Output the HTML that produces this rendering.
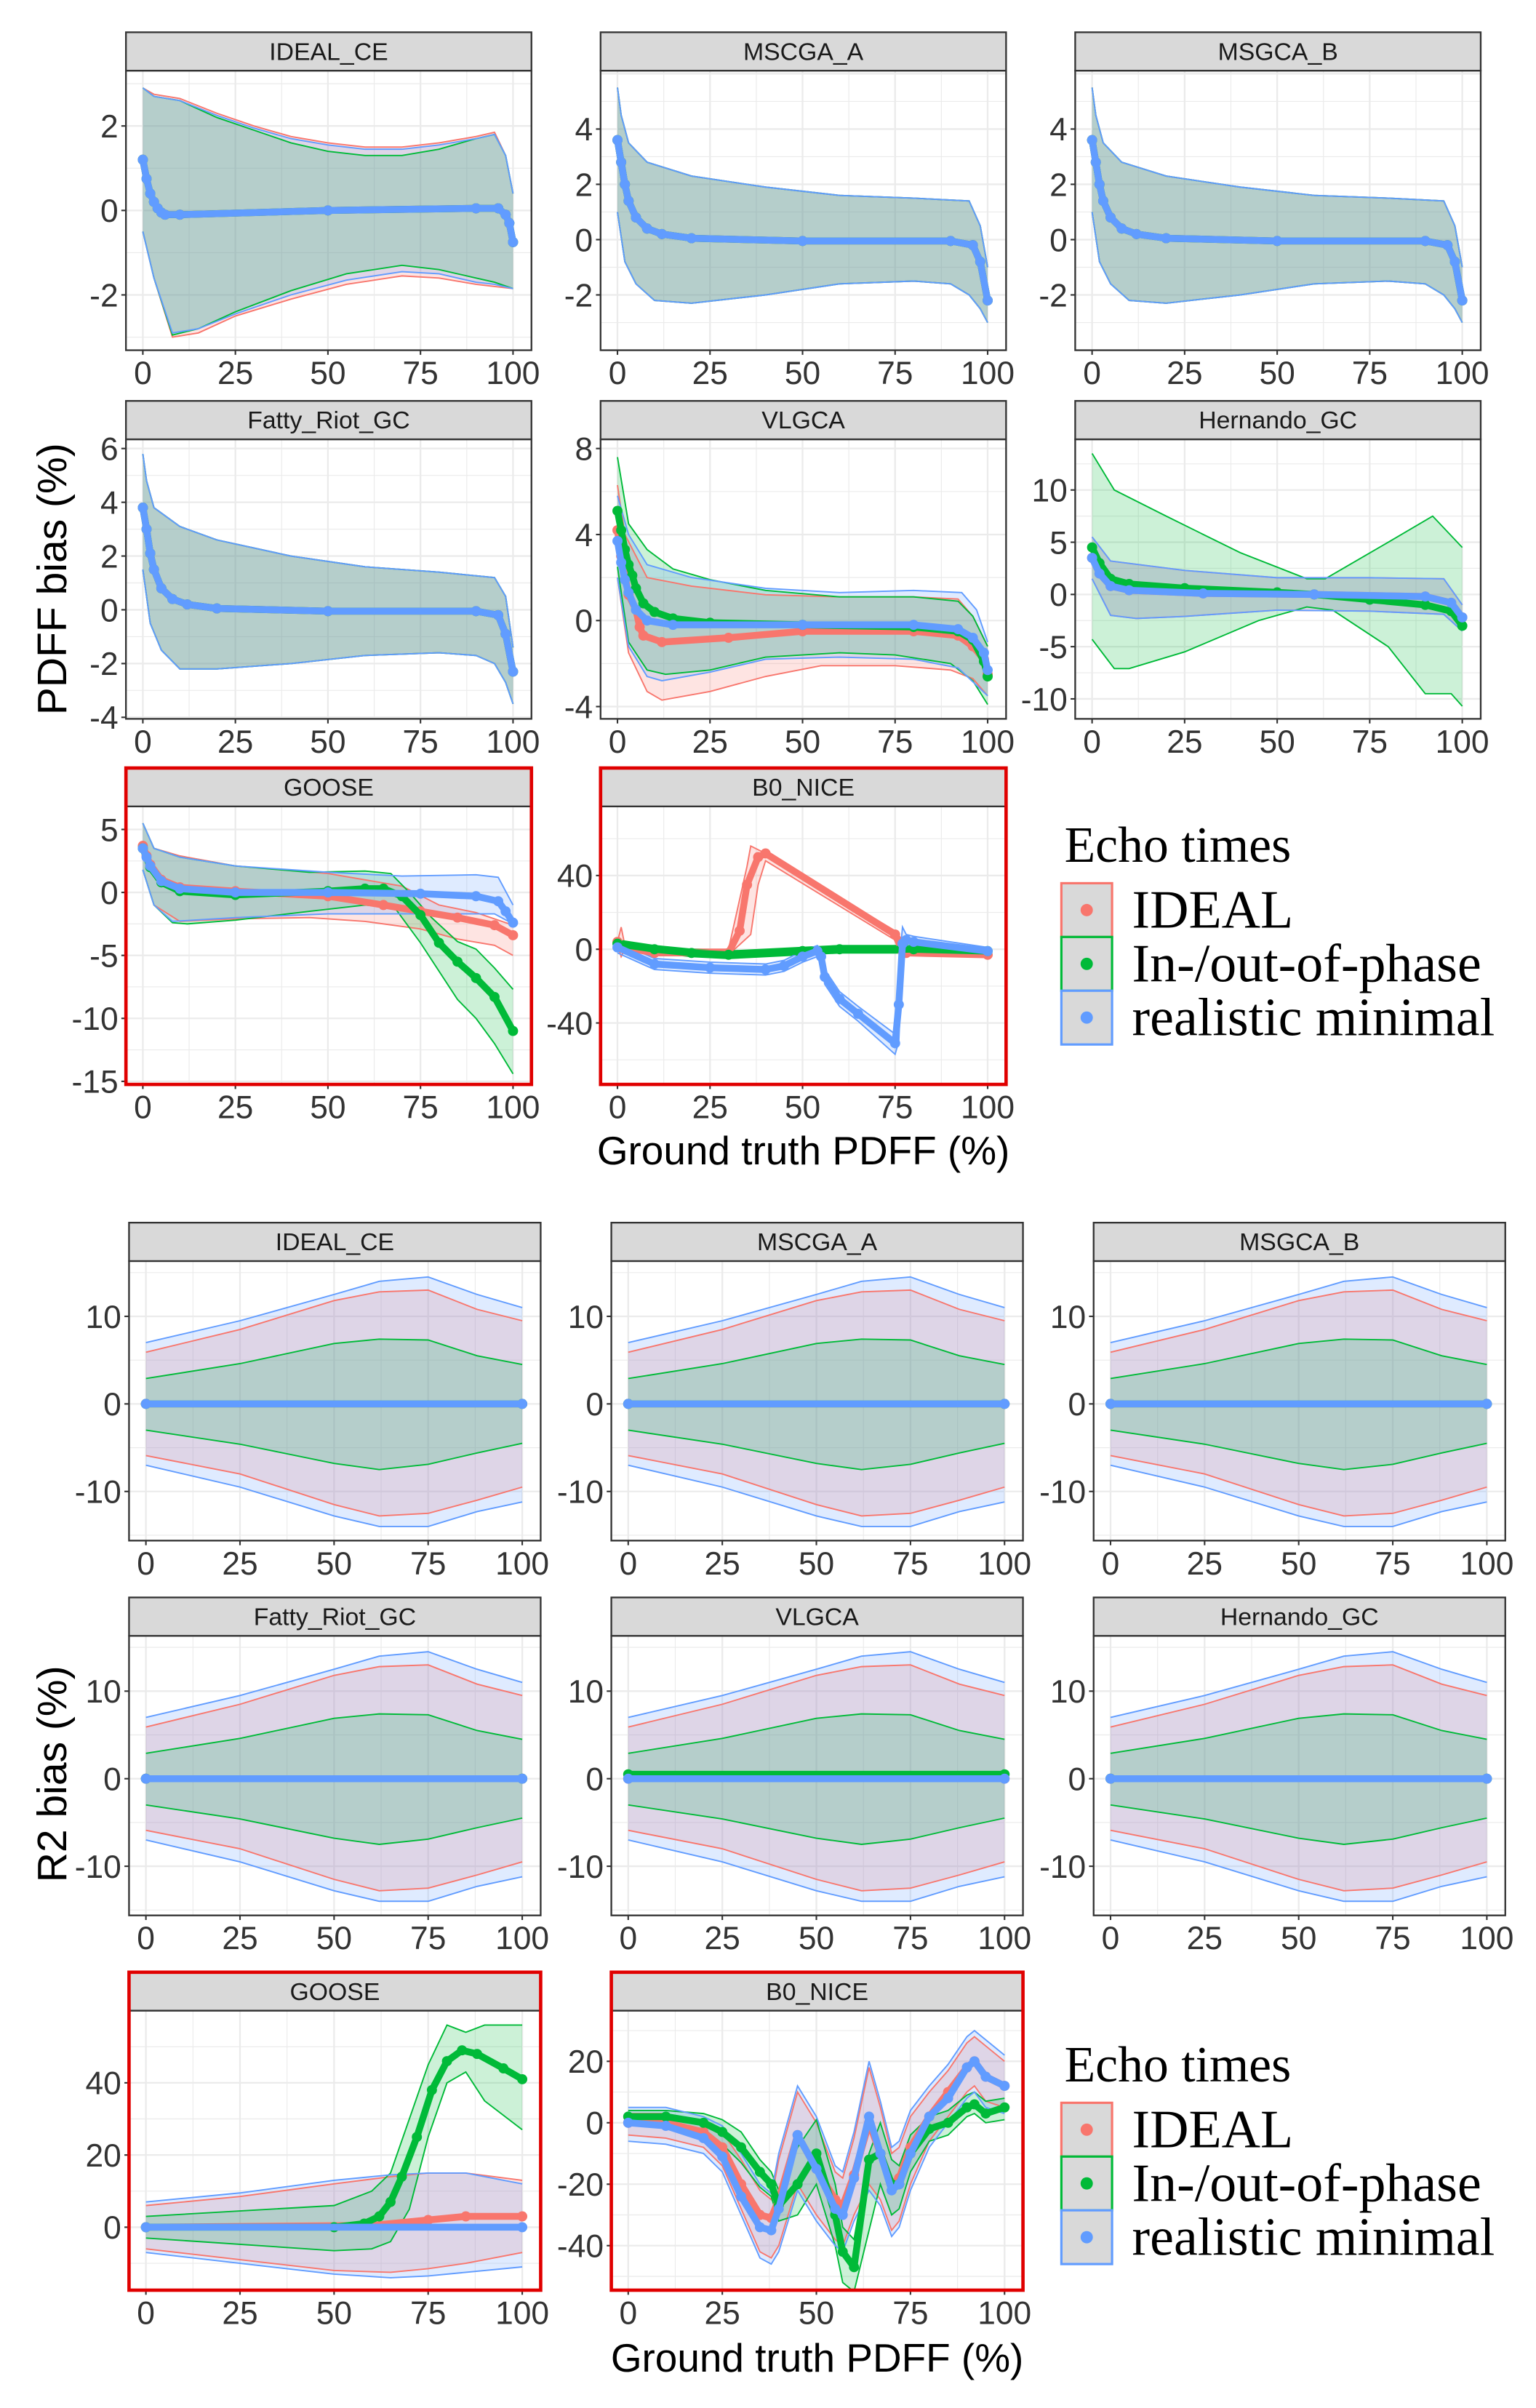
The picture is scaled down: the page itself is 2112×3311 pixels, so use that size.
<!DOCTYPE html>
<html><head><meta charset="utf-8"><style>
html,body{margin:0;padding:0;background:#fff;}
svg{display:block;}
text{font-family:"Liberation Sans",sans-serif;}
</style></head><body>
<svg id="fig" xmlns="http://www.w3.org/2000/svg" width="2112" height="3311" viewBox="0 0 1000 1567.7">
<rect x="0" y="0" width="1000" height="1568" fill="#fff"/>
<g id="root"></g>
<text x="36" y="377" transform="rotate(-90 36 377)" text-anchor="middle" font-size="27" fill="#000" dominant-baseline="middle">PDFF bias (%)</text>
<text x="523" y="758" text-anchor="middle" font-size="26" fill="#000">Ground truth PDFF (%)</text>
<text x="36" y="1155" transform="rotate(-90 36 1155)" text-anchor="middle" font-size="27" fill="#000" dominant-baseline="middle">R2 bias (%)</text>
<text x="532" y="1544" text-anchor="middle" font-size="26" fill="#000">Ground truth PDFF (%)</text>
</svg>
<script>
// ---------- DATA ----------
const colRed = "#F8766D", colGreen = "#00BA38", colBlue = "#619CFF";
const xTickValues = [0, 25, 50, 75, 100];
const legendLabels = ["IDEAL", "In-/out-of-phase", "realistic minimal"];

// IDEAL_CE PDFF
const iceUpX = [0,3,10,20,30,40,50,60,70,80,90,95,98,100];
const iceUpRed = [2.9,2.75,2.65,2.3,2.0,1.75,1.6,1.5,1.5,1.6,1.75,1.85,1.3,0.4];
const iceUpGreen = [2.9,2.7,2.6,2.2,1.9,1.6,1.4,1.3,1.3,1.45,1.7,1.8,1.3,0.4];
const iceUpBlue = [2.9,2.7,2.6,2.25,1.95,1.7,1.55,1.45,1.45,1.55,1.7,1.8,1.3,0.4];
const iceLoX = [0,3,8,15,25,40,55,70,80,90,95,100];
const iceLoRed = [-0.5,-1.6,-3.0,-2.9,-2.5,-2.1,-1.75,-1.55,-1.6,-1.75,-1.8,-1.85];
const iceLoGreen = [-0.5,-1.6,-2.95,-2.8,-2.4,-1.9,-1.5,-1.3,-1.4,-1.6,-1.7,-1.85];
const iceLoBlue = [-0.5,-1.6,-2.9,-2.8,-2.45,-2.0,-1.65,-1.45,-1.5,-1.7,-1.75,-1.85];
const iceMeanX = [0,1,2,3,4,5,6,10,50,90,96,98,99,100];
const iceMean = [1.2,0.75,0.4,0.2,0.05,-0.05,-0.1,-0.1,0,0.05,0.05,-0.1,-0.3,-0.75];
const iceTicks = [-2,0,2];

// MSCGA_A / MSGCA_B PDFF
const msUpX = [0,1,3,8,20,40,60,80,95,98,100];
const msUp = [5.5,4.5,3.5,2.8,2.3,1.9,1.6,1.5,1.4,0.5,-1.0];
const msLoX = [0,2,5,10,20,40,60,80,90,95,98,100];
const msLo = [1,-0.8,-1.6,-2.2,-2.3,-2.0,-1.6,-1.5,-1.6,-2.0,-2.5,-3.0];
const msMeanX = [0,1,2,3,5,8,12,20,50,90,96,98,100];
const msMean = [3.6,2.8,2.0,1.4,0.8,0.4,0.2,0.05,-0.05,-0.05,-0.2,-0.8,-2.2];
const msTicks = [-2,0,2,4];

// Fatty_Riot_GC PDFF
const frUpX = [0,1,3,10,20,40,60,80,95,98,100];
const frUp = [5.8,4.8,3.8,3.1,2.6,2.0,1.6,1.4,1.2,0.5,-1.4];
const frLoX = [0,2,5,10,20,40,60,80,90,95,98,100];
const frLo = [1.5,-0.5,-1.5,-2.2,-2.2,-2.0,-1.7,-1.6,-1.7,-2.0,-2.7,-3.5];
const frMeanX = [0,1,2,3,5,8,12,20,50,90,96,98,100];
const frMean = [3.8,3.0,2.1,1.5,0.8,0.4,0.2,0.05,-0.05,-0.05,-0.2,-0.9,-2.3];
const frTicks = [-4,-2,0,2,4,6];

// VLGCA PDFF
const vlGUpX = [0,3,8,15,25,40,60,80,92,96,100];
const vlGUp = [7.6,4.5,3.3,2.4,1.9,1.4,1.1,1.1,0.9,0.2,-1.2];
const vlGLoX = [0,3,8,13,25,40,60,75,90,96,100];
const vlGLo = [2.5,-1,-2.3,-2.5,-2.3,-1.7,-1.5,-1.6,-2,-2.8,-3.9];
const vlRUpX = [0,2,8,20,40,60,80,92,96,100];
const vlRUp = [6.3,4,2,1.6,1.2,1.1,1.1,1,0.2,-1.2];
const vlRLoX = [0,3,8,12,25,40,55,75,90,96,100];
const vlRLo = [2,-1.5,-3.3,-3.7,-3.3,-2.6,-2.1,-2.1,-2.3,-2.7,-3.5];
const vlBUpX = [0,3,8,20,40,60,80,93,97,100];
const vlBUp = [5.8,4,2.6,2.0,1.5,1.3,1.4,1.3,0.5,-1.0];
const vlBLoX = [0,3,8,12,25,40,60,80,92,100];
const vlBLo = [2,-1.2,-2.6,-2.8,-2.4,-1.8,-1.7,-1.8,-2.2,-3.5];
const vlRMeanX = [0,1,3,5,6,7,12,30,50,80,92,96,99,100];
const vlRMean = [4.2,3,1.2,0.5,-0.3,-0.7,-1.0,-0.8,-0.5,-0.5,-0.7,-1.2,-1.8,-2.5];
const vlGMeanX = [0,1,2,3,4,5,7,10,15,25,50,80,92,96,99,100];
const vlGMean = [5.1,4.2,3.3,2.6,2.1,1.5,0.8,0.4,0.1,-0.1,-0.2,-0.3,-0.5,-0.9,-1.9,-2.6];
const vlBMeanX = [0,1,2,3,5,8,15,50,80,92,96,99,100];
const vlBMean = [3.7,2.7,1.9,1.3,0.5,0.0,-0.2,-0.2,-0.2,-0.4,-0.8,-1.5,-2.3];
const vlTicks = [-4,0,4,8];

// Hernando_GC PDFF
const heGUpX = [0,6,20,40,58,63,80,92,100];
const heGUp = [13.5,10,7.5,4,1.5,1.5,5,7.5,4.5];
const heGLoX = [0,6,10,25,45,58,65,80,90,97,100];
const heGLo = [-4.3,-7.1,-7.1,-5.5,-2.5,-1.2,-1.5,-5,-9.5,-9.5,-10.7];
const heUpX = [0,5,25,50,75,95,100];
const heUp = [5.5,3.2,2.3,1.6,1.6,1.5,-1];
const heLoX = [0,5,12,25,50,75,95,100];
const heLo = [1.5,-2,-2.3,-2.1,-1.5,-1.6,-1.9,-3.5];
const heGMeanX = [0,2,5,10,25,50,60,75,90,97,100];
const heGMean = [4.5,3,1.5,1,0.6,0.2,0,-0.5,-1,-1.6,-3];
const heBMeanX = [0,2,5,10,30,60,90,97,100];
const heBMean = [3.5,2,0.8,0.4,0.1,0,-0.2,-0.8,-2.2];
const heTicks = [-10,-5,0,5,10];

// GOOSE PDFF
const goGUpX = [0,3,10,25,45,60,67,72,78,85,90,95,100];
const goGUp = [5.5,3.5,2.8,2.1,1.6,1.7,1.5,0,-2,-3.9,-4.5,-6,-7.7];
const goGLoX = [0,3,8,12,25,45,60,68,75,85,90,95,100];
const goGLo = [1.8,-1,-2.4,-2.5,-2.2,-1.5,-1,-1.2,-4,-8.5,-10,-12,-14.4];
const goRUpX = [0,3,10,25,50,70,80,90,100];
const goRUp = [5.5,3.5,2.9,2.1,1.5,0.5,-1,-1.6,-2.6];
const goRLoX = [0,3,10,25,45,60,75,85,95,100];
const goRLo = [1.8,-1,-2.3,-2.1,-2,-2.3,-2.9,-3.7,-4.2,-5];
const goBUpX = [0,3,10,25,50,70,90,96,100];
const goBUp = [5.5,3.5,2.8,2.1,1.6,1.3,1.4,1.2,-1];
const goBLoX = [0,3,8,25,50,70,95,100];
const goBLo = [1.8,-1,-2.3,-2,-1.7,-1.7,-1.7,-2.5];
const goRMeanX = [0,1,2,5,10,25,50,65,75,85,95,100];
const goRMean = [3.7,2.9,2.2,1.0,0.4,0.1,-0.3,-1.0,-1.5,-2.0,-2.6,-3.4];
const goGMeanX = [0,2,5,10,25,50,60,65,70,75,80,85,90,95,100];
const goGMean = [3.5,2,0.8,0.1,-0.2,0.1,0.3,0.3,-0.3,-1.8,-4,-5.5,-6.8,-8.3,-11];
const goBMeanX = [0,1,2,5,10,25,50,75,90,96,98,100];
const goBMean = [3.5,2.8,2.1,0.9,0.3,0,0,-0.1,-0.3,-0.7,-1.5,-2.4];
const goTicks = [-15,-10,-5,0,5];

// B0_NICE PDFF
const b0RMeanX = [0,2,10,30,33,35,38,40,75,77,78,100];
const b0RMean = [4,1,-2,-2,10,35,50,52,8,-1,-2,-3];
const b0RUpX = [0,1,2,10,30,35,36,40,75,77,80,100];
const b0RUp = [4,12,2,0,0,45,56,52,10,5,-2,-2];
const b0RLoX = [0,1,2,10,30,36,38,40,75,77,80,100];
const b0RLo = [2,-4,0,-3,-3,8,35,48,5,-2,-3,-4];
const b0GMeanX = [0,10,20,30,50,60,80,100];
const b0GMean = [3,0,-2,-3,-1,0,0,-1];
const b0GUp = [5,2,0,-1,1,2,2,1];
const b0GLo = [1,-2,-4,-5,-3,-2,-2,-3];
const b0BMeanX = [0,10,25,40,45,50,54,55,56,60,65,75,76,77,78,80,100];
const b0BMean = [1,-8,-10,-11,-9,-4,-1,-4,-15,-27,-35,-51,-30,3,5,4,-1];
const b0BUp = [4,-5,-7,-8,-6,-1,2,0,-11,-23,-31,-46,-10,12,8,7,1];
const b0BLo = [-2,-11,-13,-14,-12,-7,-4,-8,-19,-31,-39,-57,-50,-5,2,1,-3];
const b0Ticks = [-40,0,40];

// R2 standard panels
const r2X = [0,25,50,62,75,88,100];
const r2BUp = [7,9.5,12.5,14,14.5,12.5,11];
const r2RUp = [5.9,8.5,11.8,12.8,13,10.8,9.5];
const r2GUp = [2.9,4.6,6.9,7.4,7.3,5.5,4.5];
const r2GLo = [-3,-4.6,-6.8,-7.5,-6.9,-5.6,-4.5];
const r2RLo = [-5.9,-8,-11.5,-12.8,-12.5,-11,-9.5];
const r2BLo = [-7,-9.5,-12.8,-14,-14,-12.3,-11.2];
const r2MeanX = [0,100];
const r2Mean = [0,0];
const r2VlGMean = [0.5,0.5];
const r2Ticks = [-10,0,10];

// GOOSE R2
const gr2X = [0,25,50,65,75,85,100];
const gr2BUp = [7,9.5,13,14.5,15,15,12];
const gr2RUp = [6,8.5,12,14,15,15,13];
const gr2RLo = [-6,-9,-12,-12.5,-11.5,-10,-7];
const gr2BLo = [-7,-10,-13,-14,-13.5,-12.5,-11];
const gr2GUpX = [0,50,60,65,70,75,80,85,90,100];
const gr2GUp = [3,6,10,15,30,45,56,54,56,56];
const gr2GLoX = [0,50,60,65,70,75,80,85,90,100];
const gr2GLo = [-3,-6.5,-6,-4,5,25,40,43,35,27];
const gr2GMeanX = [0,50,58,62,65,68,72,76,80,84,88,95,100];
const gr2GMean = [0,0,1,3,7,14,25,38,46,49,48,44,41];
const gr2RMeanX = [0,60,75,85,100];
const gr2RMean = [0,0.5,2,3,3];
const gr2Ticks = [0,20,40];

// B0_NICE R2
const br2X = [0,10,20,25,30,35,38,40,45,50,55,57,60,64,67,70,72,75,80,85,90,92,95,100];
const br2RMean = [0,0,-3,-8,-20,-30,-31,-25,-4,-15,-25,-27,-17,0,-10,-20,-18,-8,2,10,18,20,15,12];
const br2BMean = [0,-1,-5,-11,-24,-34,-35,-28,-4,-15,-28,-30,-18,2,-10,-22,-20,-10,2,8,18,20,15,12];
const br2GMean = [2,2,0,-3,-8,-16,-20,-27,-20,-10,-30,-42,-47,-12,-10,-20,-20,-10,-2,0,5,6,3,5];
const br2RUp = [3,3,0,-3,-12,-22,-25,-12,10,0,-16,-18,-5,18,5,-10,-8,2,10,17,26,28,25,20];
const br2RLo = [-4,-5,-8,-14,-28,-42,-44,-40,-20,-30,-38,-40,-30,-20,-25,-35,-32,-20,-6,2,10,12,7,5];
const br2GUp = [4,4,3,1,-3,-12,-16,-22,-8,1,-20,-34,-38,-10,0,-12,-14,-4,2,4,9,10,7,8];
const br2GLo = [0,0,-3,-7,-13,-21,-24,-32,-30,-20,-40,-52,-55,-35,-20,-30,-28,-16,-6,-4,2,3,0,1];
const br2Ticks = [-40,-20,0,20];

// ---------- LAYOUT ----------
const NS = "http://www.w3.org/2000/svg";
const root = document.getElementById('root');
function mk(tag, attrs, parent){
  const e = document.createElementNS(NS, tag);
  for (const k in attrs) e.setAttribute(k, attrs[k]);
  (parent||root).appendChild(e);
  return e;
}

function drawPanel(p){
  const g = mk('g', {});
  
  
  const x0 = p.left + 11, x1 = p.right - 12;
  const sx = v => x0 + v/100*(x1-x0);
  const k = (p.pb - p.pa)/(p.vb - p.va);
  const sy = v => p.pa + (v - p.va)*k;
  mk('rect', {x:p.left, y:p.top, width:p.right-p.left, height:p.bottom-p.top, fill:'#fff'}, g);
  const clipId = 'c'+p.id;
  const cp = mk('clipPath', {id:clipId}, g);
  mk('rect', {x:p.left, y:p.top, width:p.right-p.left, height:p.bottom-p.top}, cp);
  const ticks = p.ticks;
  const step = ticks[1]-ticks[0];
  for (let v = ticks[0]-step; v <= ticks[ticks.length-1]+step; v += step/2){
    const y = sy(v);
    if (y < p.top || y > p.bottom) continue;
    const major = Math.abs((v-ticks[0])/step - Math.round((v-ticks[0])/step))<1e-6;
    mk('line', {x1:p.left, x2:p.right, y1:y, y2:y, stroke:'#EBEBEB', 'stroke-width': major?1.1:0.55}, g);
  }
  for (let v = 0; v <= 100; v += 12.5){
    const major = (v % 25) === 0;
    mk('line', {x1:sx(v), x2:sx(v), y1:p.top, y2:p.bottom, stroke:'#EBEBEB', 'stroke-width': major?1.1:0.55}, g);
  }
  const dg = mk('g', {'clip-path':'url(#'+clipId+')'}, g);
  p.series.forEach(s => {
    const pts = [];
    s.upX.forEach((x,i)=>pts.push(sx(x)+','+sy(s.up[i])));
    for (let i=s.loX.length-1;i>=0;i--) pts.push(sx(s.loX[i])+','+sy(s.lo[i]));
    const r = mk('polygon', {points:pts.join(' '), fill:s.col, 'fill-opacity':0.2, stroke:'none'}, dg);
    
    
  });
  p.series.forEach(s => {
    mk('polyline', {points:s.upX.map((x,i)=>sx(x)+','+sy(s.up[i])).join(' '), fill:'none', stroke:s.col, 'stroke-width':0.9}, dg);
    mk('polyline', {points:s.loX.map((x,i)=>sx(x)+','+sy(s.lo[i])).join(' '), fill:'none', stroke:s.col, 'stroke-width':0.9}, dg);
  });
  p.series.forEach(s => {
    const l = mk('polyline', {points:s.mX.map((x,i)=>sx(x)+','+sy(s.m[i])).join(' '), fill:'none', stroke:s.col, 'stroke-width':4.5, 'stroke-linecap':'round', 'stroke-linejoin':'round'}, dg);
    
    
    s.mX.forEach((x,i)=>{
      const c = mk('circle', {cx:sx(x), cy:sy(s.m[i]), r:3.3, fill:s.col}, dg);
      
      
    });
  });
  mk('rect', {x:p.left, y:p.top, width:p.right-p.left, height:p.bottom-p.top, fill:'none', stroke:'#333', 'stroke-width':1.1}, g);
  const st = mk('rect', {x:p.left, y:p.top-25, width:p.right-p.left, height:25, fill:'#D9D9D9', stroke:'#333', 'stroke-width':1.1}, g);
  
  
  const tt = mk('text', {x:(p.left+p.right)/2, y:p.top-7, 'text-anchor':'middle', 'font-size':16, fill:'#1A1A1A'}, g);
  tt.textContent = p.title;
  
  
  ticks.forEach(v=>{
    const y = sy(v);
    mk('line', {x1:p.left-3, x2:p.left, y1:y, y2:y, stroke:'#333', 'stroke-width':1}, g);
    const t = mk('text', {x:p.left-5, y:y+7.5, 'text-anchor':'end', 'font-size':21, fill:'#333'}, g);
    t.textContent = v;
    
    
  });
  xTickValues.forEach(v=>{
    mk('line', {x1:sx(v), x2:sx(v), y1:p.bottom, y2:p.bottom+3, stroke:'#333', 'stroke-width':1}, g);
    const t = mk('text', {x:sx(v), y:p.bottom+22, 'text-anchor':'middle', 'font-size':21, fill:'#333'}, g);
    t.textContent = v;
    
    
  });
  if (p.highlight){
    const h = mk('rect', {x:p.left, y:p.top-25, width:p.right-p.left, height:p.bottom-p.top+25, fill:'none', stroke:'#E00000', 'stroke-width':2.2}, g);
    
    
  }
}

function S(name,col,upX,up,loX,lo,mX,m){ return {name,col,upX,up,loX,lo,mX,m}; }

const panels = [
 {id:'pdff-ideal-ce', title:'IDEAL_CE', left:82, right:346, top:46, bottom:228, va:0, pa:137, vb:2, pb:82, ticks:iceTicks, series:[
   S('ideal',colRed,iceUpX,iceUpRed,iceLoX,iceLoRed,iceMeanX,iceMean),
   S('inout',colGreen,iceUpX,iceUpGreen,iceLoX,iceLoGreen,iceMeanX,iceMean),
   S('realistic',colBlue,iceUpX,iceUpBlue,iceLoX,iceLoBlue,iceMeanX,iceMean)]},
 {id:'pdff-mscga-a', title:'MSCGA_A', left:391, right:655, top:46, bottom:228, va:0, pa:156, vb:4, pb:84, ticks:msTicks, series:[
   S('ideal',colRed,msUpX,msUp,msLoX,msLo,msMeanX,msMean),
   S('inout',colGreen,msUpX,msUp,msLoX,msLo,msMeanX,msMean),
   S('realistic',colBlue,msUpX,msUp,msLoX,msLo,msMeanX,msMean)]},
 {id:'pdff-msgca-b', title:'MSGCA_B', left:700, right:964, top:46, bottom:228, va:0, pa:156, vb:4, pb:84, ticks:msTicks, series:[
   S('ideal',colRed,msUpX,msUp,msLoX,msLo,msMeanX,msMean),
   S('inout',colGreen,msUpX,msUp,msLoX,msLo,msMeanX,msMean),
   S('realistic',colBlue,msUpX,msUp,msLoX,msLo,msMeanX,msMean)]},
 {id:'pdff-fatty-riot-gc', title:'Fatty_Riot_GC', left:82, right:346, top:286, bottom:468, va:0, pa:397, vb:6, pb:292, ticks:frTicks, series:[
   S('ideal',colRed,frUpX,frUp,frLoX,frLo,frMeanX,frMean),
   S('inout',colGreen,frUpX,frUp,frLoX,frLo,frMeanX,frMean),
   S('realistic',colBlue,frUpX,frUp,frLoX,frLo,frMeanX,frMean)]},
 {id:'pdff-vlgca', title:'VLGCA', left:391, right:655, top:286, bottom:468, va:0, pa:404, vb:8, pb:292, ticks:vlTicks, series:[
   S('ideal',colRed,vlRUpX,vlRUp,vlRLoX,vlRLo,vlRMeanX,vlRMean),
   S('inout',colGreen,vlGUpX,vlGUp,vlGLoX,vlGLo,vlGMeanX,vlGMean),
   S('realistic',colBlue,vlBUpX,vlBUp,vlBLoX,vlBLo,vlBMeanX,vlBMean)]},
 {id:'pdff-hernando-gc', title:'Hernando_GC', left:700, right:964, top:286, bottom:468, va:0, pa:387, vb:10, pb:319, ticks:heTicks, series:[
   S('ideal',colRed,heUpX,heUp,heLoX,heLo,heBMeanX,heBMean),
   S('inout',colGreen,heGUpX,heGUp,heGLoX,heGLo,heGMeanX,heGMean),
   S('realistic',colBlue,heUpX,heUp,heLoX,heLo,heBMeanX,heBMean)]},
 {id:'pdff-goose', title:'GOOSE', left:82, right:346, top:525, bottom:706, va:0, pa:581, vb:5, pb:540, ticks:goTicks, highlight:true, series:[
   S('ideal',colRed,goRUpX,goRUp,goRLoX,goRLo,goRMeanX,goRMean),
   S('inout',colGreen,goGUpX,goGUp,goGLoX,goGLo,goGMeanX,goGMean),
   S('realistic',colBlue,goBUpX,goBUp,goBLoX,goBLo,goBMeanX,goBMean)]},
 {id:'pdff-b0-nice', title:'B0_NICE', left:391, right:655, top:525, bottom:706, va:0, pa:618, vb:40, pb:570, ticks:b0Ticks, highlight:true, series:[
   S('ideal',colRed,b0RUpX,b0RUp,b0RLoX,b0RLo,b0RMeanX,b0RMean),
   S('inout',colGreen,b0GMeanX,b0GUp,b0GMeanX,b0GLo,b0GMeanX,b0GMean),
   S('realistic',colBlue,b0BMeanX,b0BUp,b0BMeanX,b0BLo,b0BMeanX,b0BMean)]},
];
function r2Std(id,title,left,right,top,bottom,pa,pb,gMean){
  return {id,title,left,right,top,bottom,va:0,pa,vb:10,pb,ticks:r2Ticks,series:[
    S('realistic',colBlue,r2X,r2BUp,r2X,r2BLo,r2MeanX,r2Mean),
    S('ideal',colRed,r2X,r2RUp,r2X,r2RLo,r2MeanX,r2Mean),
    S('inout',colGreen,r2X,r2GUp,r2X,r2GLo,r2MeanX,gMean)]};
}
panels.push(r2Std('r2-ideal-ce','IDEAL_CE',84,352,821,1003,914,857,r2Mean));
panels.push(r2Std('r2-mscga-a','MSCGA_A',398,666,821,1003,914,857,r2Mean));
panels.push(r2Std('r2-msgca-b','MSGCA_B',712,980,821,1003,914,857,r2Mean));
panels.push(r2Std('r2-fatty-riot-gc','Fatty_Riot_GC',84,352,1065,1247,1158,1101,r2Mean));
panels.push(r2Std('r2-vlgca','VLGCA',398,666,1065,1247,1158,1101,r2VlGMean));
panels.push(r2Std('r2-hernando-gc','Hernando_GC',712,980,1065,1247,1158,1101,r2Mean));
panels.push({id:'r2-goose', title:'GOOSE', left:84, right:352, top:1309, bottom:1491, va:0, pa:1450, vb:40, pb:1356, ticks:gr2Ticks, highlight:true, series:[
  S('realistic',colBlue,gr2X,gr2BUp,gr2X,gr2BLo,r2MeanX,r2Mean),
  S('ideal',colRed,gr2X,gr2RUp,gr2X,gr2RLo,gr2RMeanX,gr2RMean),
  S('inout',colGreen,gr2GUpX,gr2GUp,gr2GLoX,gr2GLo,gr2GMeanX,gr2GMean)]});
panels.push({id:'r2-b0-nice', title:'B0_NICE', left:398, right:666, top:1309, bottom:1491, va:0, pa:1382, vb:20, pb:1342, ticks:br2Ticks, highlight:true, series:[
  S('realistic',colBlue,br2X,br2RUp.map(v=>v+2),br2X,br2RLo.map(v=>v-2),br2X,br2BMean),
  S('ideal',colRed,br2X,br2RUp,br2X,br2RLo,br2X,br2RMean),
  S('inout',colGreen,br2X,br2GUp,br2X,br2GLo,br2X,br2GMean)]});

panels.forEach(p=>{
  const order = {ideal:0, inout:1, realistic:2};
  p.series.sort((a,b)=>order[a.name]-order[b.name]);
  drawPanel(p);
});

function legend(y0){
  const g = mk('g', {});
  
  
  const t = mk('text', {x:693, y:y0, 'font-size':33, fill:'#000', style:'font-family:"Liberation Serif",serif'}, g);
  t.textContent = 'Echo times';
  
  
  const cols = [colRed, colGreen, colBlue];
  legendLabels.forEach((lab,i)=>{
    const ky = y0 + 14 + i*35;
    const e = mk('g', {}, g);
    
    
    mk('rect', {x:691, y:ky, width:33, height:35, fill:'#D9D9D9', stroke:cols[i], 'stroke-width':1.5}, e);
    mk('circle', {cx:707.5, cy:ky+17.5, r:4, fill:cols[i]}, e);
    const lt = mk('text', {x:737, y:ky+29, 'font-size':35, fill:'#000', style:'font-family:"Liberation Serif",serif'}, e);
    lt.textContent = lab;
  });
}
legend(561);
legend(1355);
</script>
</body></html>
